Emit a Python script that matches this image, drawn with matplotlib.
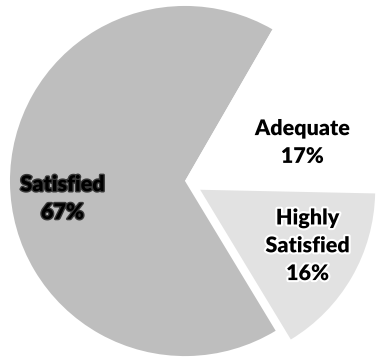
import matplotlib
matplotlib.use("Agg")
import matplotlib.pyplot as plt
import matplotlib.patheffects as pe

categories = ["Satisfied", "Highly\nSatisfied", "Adequate"]
values = [67, 16, 17]

colors = ["#bebebe", "#e2e2e2", "#ffffff"]
explode = [0, 0.1, 0]
# label centres (data coords)
label_pos = [(-0.70, -0.10), (0.70, -0.37), (0.67, 0.22)]
halo = ["#3a3a3a", "white", "white"]

fig = plt.figure(figsize=(3.77, 3.58), dpi=100)
ax = fig.add_axes([0, 0, 1, 1])

labels = [f"{c}\n{v}%" for c, v in zip(categories, values)]
wedges, texts = ax.pie(values, labels=labels, colors=colors, explode=explode,
                       startangle=60, counterclock=True, labeldistance=0.7,
                       wedgeprops=dict(linewidth=0),
                       textprops=dict(fontsize=15.5, fontweight="heavy", family="Lato",
                                      ha="center", va="center", linespacing=1.4))
for t, p, h in zip(texts, label_pos, halo):
    t.set_position(p)
    t.set_horizontalalignment("center")
    t.set_path_effects([pe.withStroke(linewidth=2 if h != "white" else 3, foreground=h)])

ax.set_xlim(-1.057, 1.097)
ax.set_ylim(-1.011, 1.034)
ax.set_aspect("auto")
ax.axis("off")

fig.savefig("out.png", dpi=100)
